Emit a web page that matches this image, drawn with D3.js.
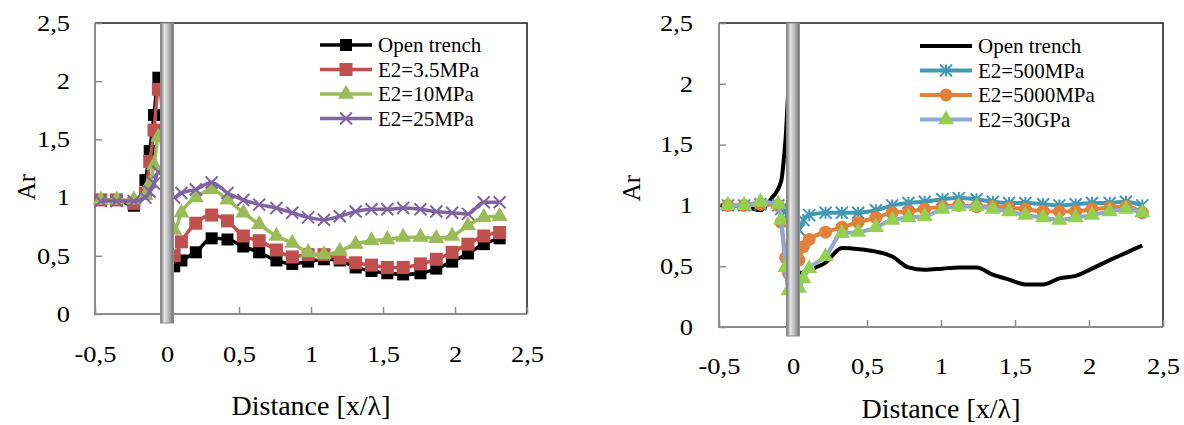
<!DOCTYPE html>
<html>
<head>
<meta charset="utf-8">
<script src="https://cdnjs.cloudflare.com/ajax/libs/d3/7.8.5/d3.min.js"></script>
<style>
  body { margin: 0; background: #fff; }
  svg { font-family: "Liberation Serif", "Times New Roman", serif; }
</style>
</head>
<body>
<svg id="fig" width="1184" height="425"></svg>
<script>
// Valeurs (Ar en fonction de x/lambda)

// Panneau gauche
var xLeft = [-0.46, -0.35, -0.23, -0.15, -0.12, -0.09, -0.06, 0.05, 0.1, 0.2, 0.31, 0.42, 0.53, 0.64, 0.76, 0.87, 0.98, 1.09, 1.2, 1.31, 1.42, 1.53, 1.64, 1.76, 1.87, 1.98, 2.09, 2.2, 2.31];
var openLeft = [0.98, 0.98, 0.93, 1.15, 1.40, 1.71, 2.03, 0.41, 0.46, 0.53, 0.65, 0.64, 0.58, 0.53, 0.46, 0.43, 0.45, 0.47, 0.46, 0.40, 0.37, 0.35, 0.34, 0.35, 0.39, 0.45, 0.52, 0.60, 0.65];
var e2_35 = [0.98, 0.98, 0.95, 1.04, 1.31, 1.58, 1.93, 0.50, 0.62, 0.78, 0.85, 0.80, 0.67, 0.63, 0.55, 0.49, 0.51, 0.51, 0.48, 0.44, 0.42, 0.40, 0.40, 0.43, 0.47, 0.53, 0.60, 0.67, 0.70];
var e2_10 = [0.98, 0.98, 0.98, 1.02, 1.12, 1.28, 1.52, 0.72, 0.87, 1.00, 1.07, 0.98, 0.87, 0.77, 0.67, 0.61, 0.53, 0.51, 0.54, 0.60, 0.63, 0.64, 0.66, 0.66, 0.65, 0.67, 0.76, 0.83, 0.84];
var e2_25 = [0.97, 0.97, 0.97, 1.00, 1.05, 1.12, 1.22, 1.00, 1.04, 1.07, 1.13, 1.04, 0.98, 0.94, 0.91, 0.87, 0.83, 0.81, 0.84, 0.88, 0.90, 0.90, 0.91, 0.90, 0.88, 0.87, 0.86, 0.96, 0.96];

// Panneau droit
var xOpenRight = [-0.49, -0.33, -0.22, -0.15, -0.08, -0.05, -0.025, 0.04, 0.11, 0.22, 0.33, 0.45, 0.56, 0.67, 0.78, 0.89, 1.01, 1.12, 1.24, 1.35, 1.46, 1.57, 1.69, 1.8, 1.91, 2.02, 2.14, 2.25, 2.36];
var openRight = [1.0, 0.99, 0.96, 1.05, 1.2, 1.55, 2.0, 0.44, 0.47, 0.53, 0.65, 0.64, 0.62, 0.58, 0.49, 0.47, 0.48, 0.49, 0.49, 0.43, 0.39, 0.35, 0.35, 0.40, 0.42, 0.48, 0.55, 0.61, 0.67];
var xRight = [-0.44, -0.33, -0.22, -0.1, -0.08, -0.05, -0.03, 0.04, 0.07, 0.11, 0.22, 0.33, 0.44, 0.56, 0.67, 0.78, 0.89, 1.01, 1.12, 1.24, 1.35, 1.46, 1.57, 1.69, 1.8, 1.91, 2.02, 2.14, 2.25, 2.36];
var e2_500 = [1.0, 1.0, 1.01, 1.0, 0.97, 0.95, 0.93, 0.80, 0.88, 0.92, 0.94, 0.94, 0.94, 0.96, 1.00, 1.02, 1.03, 1.05, 1.06, 1.05, 1.03, 1.02, 1.02, 1.01, 1.00, 1.01, 1.02, 1.02, 1.03, 1.00];
var e2_5000 = [1.0, 1.0, 1.01, 1.0, 0.86, 0.57, 0.44, 0.55, 0.66, 0.72, 0.78, 0.82, 0.86, 0.90, 0.94, 0.95, 0.97, 0.99, 1.00, 0.99, 0.99, 0.98, 0.97, 0.95, 0.95, 0.95, 0.97, 0.98, 0.99, 0.94];
var e2_30G = [1.0, 1.0, 1.03, 1.01, 0.88, 0.49, 0.30, 0.32, 0.40, 0.48, 0.58, 0.77, 0.78, 0.82, 0.88, 0.90, 0.91, 0.97, 0.99, 0.99, 0.97, 0.95, 0.92, 0.90, 0.88, 0.90, 0.92, 0.95, 0.97, 0.94];

// Graduations
var yTicks = [0, 0.5, 1, 1.5, 2, 2.5];
var xTicks = [-0.5, 0, 0.5, 1, 1.5, 2, 2.5];

// etirement horizontal des etiquettes (la figure d'origine est etiree)
var sx = 1.15;

var svg = d3.select("#fig");

// Degrade pour le mur (ecran)
var grad = svg.append("defs").append("linearGradient")
    .attr("id", "wallGrad")
    .attr("x1", "0").attr("x2", "1").attr("y1", "0").attr("y2", "0");
grad.append("stop").attr("offset", "0%").attr("stop-color", "#6f6f6f");
grad.append("stop").attr("offset", "30%").attr("stop-color", "#e4e4e4");
grad.append("stop").attr("offset", "55%").attr("stop-color", "#c4c4c4");
grad.append("stop").attr("offset", "100%").attr("stop-color", "#727272");

function comma(d) { return String(d).replace(".", ","); }

// Formes des marqueurs
function markerPath(type, s) {
    if (type == "square") return d3.symbol(d3.symbolSquare, s * s)();
    if (type == "triangle") return d3.symbol(d3.symbolTriangle, s * s * 0.5)();
    if (type == "circle") return d3.symbol(d3.symbolCircle, s * s * 0.785)();
    var h = s / 2;
    if (type == "cross") return "M" + (-h) + "," + (-h) + "L" + h + "," + h + "M" + (-h) + "," + h + "L" + h + "," + (-h);
    if (type == "star") return "M" + (-h) + "," + (-h) + "L" + h + "," + h + "M" + (-h) + "," + h + "L" + h + "," + (-h) + "M0," + (-h) + "L0," + h;
    return null;
}
function isLine(m) { return m == "cross" || m == "star"; }

function drawPanel(p) {
    var x = d3.scaleLinear().domain([-0.5, 2.5]).range([p.left, p.right]);
    var y = d3.scaleLinear().domain([0, 2.5]).range([p.bottom, p.top]);
    var g = svg.append("g");

    // cadre haut / droite
    g.append("path")
        .attr("d", "M" + p.left + "," + p.top + "H" + p.right + "V" + p.bottom)
        .attr("fill", "none").attr("stroke", "#1a1a1a").attr("stroke-width", 1.5);

    // Axe Y
    var ypad = p.left - p.yLabelEnd;
    var ay = g.append("g")
        .attr("transform", "translate(" + p.left + ",0)")
        .call(d3.axisLeft(y).tickValues(yTicks).tickSize(-7).tickPadding(ypad).tickFormat(comma));
    ay.selectAll("text").attr("x", -ypad / sx);
    // Axe X
    var ax = g.append("g")
        .attr("transform", "translate(0," + p.bottom + ")")
        .call(d3.axisBottom(x).tickValues(xTicks).tickSize(-7).tickPadding(p.xPad).tickFormat(comma));
    [ay, ax].forEach(function (a) {
        a.attr("font-family", null).attr("font-size", null);
        a.select(".domain").remove();
        a.selectAll("line").attr("stroke", "#8c8c8c").attr("stroke-width", 1.5);
        a.selectAll("text")
            .attr("fill", "#000")
            .attr("transform", "scale(" + sx + ",1)")
            .style("font-size", "23px");
    });
    g.append("path")
        .attr("d", "M" + p.left + "," + p.top + "V" + p.bottom + "H" + p.right)
        .attr("fill", "none").attr("stroke", "#8c8c8c").attr("stroke-width", 2);

    // Series
    p.series.forEach(function (s) {
        var pts = s.xs.map(function (v, i) { return [x(v), y(s.ys[i])]; });
        g.append("path")
            .attr("d", d3.line().curve(d3.curveMonotoneX)(pts))
            .attr("fill", "none")
            .attr("stroke", s.color)
            .attr("stroke-width", s.width)
            .attr("stroke-linejoin", "round");
        if (s.marker) {
            g.selectAll(null)
                .data(pts)
                .enter()
                .append("path")
                .attr("transform", function (d) { return "translate(" + d[0] + "," + d[1] + ")"; })
                .attr("d", markerPath(s.marker, s.msize))
                .attr("fill", isLine(s.marker) ? "none" : s.mcolor)
                .attr("stroke", isLine(s.marker) ? s.mcolor : "none")
                .attr("stroke-width", 2);
        }
    });

    // Mur (ecran) a x = 0
    var wx = x(0);
    g.append("rect")
        .attr("x", wx - 6.5).attr("y", p.top)
        .attr("width", 13).attr("height", p.bottom - p.top + 9)
        .attr("fill", "url(#wallGrad)")
        .attr("stroke", "#8a8a8a").attr("stroke-width", 1);

    // Legende
    var lg = g.append("g");
    p.series.forEach(function (s, i) {
        var ly = p.legY + i * 24.5;
        lg.append("line")
            .attr("x1", p.legX).attr("x2", p.legX + 52)
            .attr("y1", ly).attr("y2", ly)
            .attr("stroke", s.color).attr("stroke-width", s.width);
        if (s.marker) {
            lg.append("path")
                .attr("transform", "translate(" + (p.legX + 26) + "," + ly + ")")
                .attr("d", markerPath(s.marker, s.msize))
                .attr("fill", isLine(s.marker) ? "none" : s.mcolor)
                .attr("stroke", isLine(s.marker) ? s.mcolor : "none")
                .attr("stroke-width", 2);
        }
        lg.append("text")
            .attr("x", p.legX + 58).attr("y", ly)
            .attr("dy", "0.35em")
            .style("font-size", "21px")
            .text(s.name);
    });

    // Titres des axes
    g.append("text")
        .attr("transform", "translate(" + p.yTitleX + "," + p.yTitleY + ") rotate(-90)")
        .attr("text-anchor", "middle")
        .attr("dy", "0.35em")
        .style("font-size", "25px")
        .text("Ar");
    g.append("text")
        .attr("x", (p.left + p.right) / 2)
        .attr("y", p.xTitleY)
        .attr("text-anchor", "middle")
        .style("font-size", "28px")
        .text("Distance [x/\u03bb]");
}

drawPanel({
    left: 95, right: 527, top: 23, bottom: 314,
    yLabelEnd: 70, xPad: 32,
    legX: 320, legY: 45,
    yTitleX: 26, yTitleY: 187, xTitleY: 415,
    series: [
        {name: "Open trench", xs: xLeft, ys: openLeft, color: "#000", width: 3.5, marker: "square", msize: 12, mcolor: "#000"},
        {name: "E2=3.5MPa", xs: xLeft, ys: e2_35, color: "#c0504d", width: 3.5, marker: "square", msize: 13, mcolor: "#c0504d"},
        {name: "E2=10MPa", xs: xLeft, ys: e2_10, color: "#9bbb59", width: 3.5, marker: "triangle", msize: 15, mcolor: "#9bbb59"},
        {name: "E2=25MPa", xs: xLeft, ys: e2_25, color: "#8064a2", width: 3.5, marker: "cross", msize: 12, mcolor: "#8064a2"}
    ]
});

drawPanel({
    left: 719, right: 1163, top: 23, bottom: 327,
    yLabelEnd: 693, xPad: 31,
    legX: 920, legY: 46,
    yTitleX: 631, yTitleY: 188, xTitleY: 418,
    series: [
        {name: "Open trench", xs: xOpenRight, ys: openRight, color: "#000", width: 4, marker: null},
        {name: "E2=500MPa", xs: xRight, ys: e2_500, color: "#4299b3", width: 4, marker: "star", msize: 12, mcolor: "#4299b3"},
        {name: "E2=5000MPa", xs: xRight, ys: e2_5000, color: "#e2823a", width: 4, marker: "circle", msize: 13, mcolor: "#e2823a"},
        {name: "E2=30GPa", xs: xRight, ys: e2_30G, color: "#8fa8d8", width: 4, marker: "triangle", msize: 15, mcolor: "#92d050"}
    ]
});
</script>
</body>
</html>
